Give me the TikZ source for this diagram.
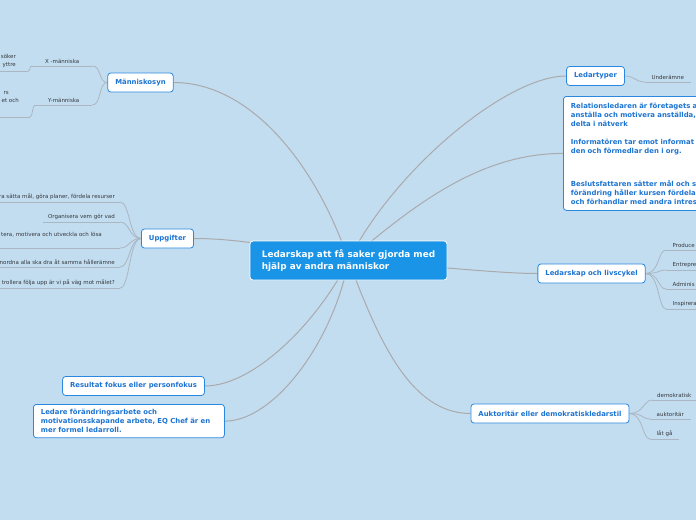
\documentclass[tikz,border=0pt]{standalone}
\usepackage{fontspec}
\setmainfont{DejaVu Sans}
\usepackage{xcolor}
\usepackage{tikz}
\usetikzlibrary{positioning,backgrounds,calc}
\definecolor{mapbg}{HTML}{C3DDF0}
\definecolor{mapblue}{HTML}{1A94E6}
\definecolor{topicline}{HTML}{2A88E0}
\definecolor{topictext}{HTML}{1C74D2}
\definecolor{branch}{HTML}{A9AAAC}
\definecolor{twig}{HTML}{AAB6C1}
\definecolor{leaftext}{HTML}{33383D}

\begin{document}
\begin{tikzpicture}[
  x=1pt,y=-1pt,
  central/.style={draw=white,line width=0.8pt,fill=mapblue,rounded corners=3pt,text=white,
                  font=\fontsize{8.9}{12}\selectfont\bfseries,align=left,
                  minimum width=197pt,minimum height=39pt,inner xsep=11pt},
  topic/.style={draw=topicline,line width=0.8pt,fill=white,rounded corners=3pt,text=topictext,
                font=\fontsize{6.9}{9}\selectfont\bfseries,align=left,
                minimum height=19pt,inner xsep=7.5pt},
  leaf/.style={font=\fontsize{5.5}{8}\selectfont,text=leaftext,inner xsep=5pt,inner ysep=2pt},
  leafL/.style={leaf,align=right,anchor=south east},
  leafR/.style={leaf,align=left,anchor=south west,inner xsep=6.5pt},
  branchline/.style={draw=branch,line width=1pt},
  twigline/.style={draw=twig,line width=0.8pt},
]
\useasboundingbox (0,0) rectangle (696,520);
\begin{scope}[on background layer]
  \fill[mapbg] (0,0) rectangle (696,520);
\end{scope}

% centre
\node[central] (root) at (348.5,260.5) {Ledarskap att få saker gjorda med\\hjälp av andra människor};

% LEFT: main topics
\node[topic] (mannsyn) at (140.5,82.5) {Människosyn};
\node[topic] (uppg) at (167.5,238.5) {Uppgifter};
\node[topic] (resultat) at (133.5,386) {Resultat fokus eller personfokus};
\node[topic,anchor=north west,inner ysep=5pt,text width=176pt] (ledare) at (33,404)
  {Ledare förändringsarbete och\\motivationsskapande arbete, EQ Chef är en\\mer formel ledarroll.};

% RIGHT: main topics
\node[topic] (ledartyper) at (595.5,76) {Ledartyper};
\node[topic,anchor=north west,minimum height=114pt,inner ysep=5pt,text width=190pt] (roller) at (563,96)
  {Relationsledaren är företagets a\\anställa och motivera anställda,\\delta i nätverk\\[9pt]
   Informatören tar emot informat\\den och förmedlar den i org.\\[24pt]
   Beslutsfattaren sätter mål och s\\förändring håller kursen fördela\\och förhandlar med andra intres};
\node[topic] (livscykel) at (591.5,273.5) {Ledarskap och livscykel};
\node[topic] (stil) at (550,413.5) {Auktoritär eller demokratiskledarstil};

% leaves of Människosyn
\node[leaf,align=center,minimum width=60pt,anchor=south west] (xman) at (32,66) {X -människa};
\node[leaf,align=center,minimum width=57pt,anchor=south west] (yman) at (35,105) {Y-människa};
\node[leafL,inner xsep=12pt,inner ysep=3.5pt] (xlat) at (28,71) {söker\\yttre};
\node[leafL,inner xsep=11pt,text depth=12pt] (yflit) at (30,117) {rs\hspace*{10pt}\\et och};

% leaves of Uppgifter
\node[leafL] (u1) at (120,202) {ra sätta mål, göra planer, fördela resurser};
\node[leafL] (u2) at (120,222) {Organisera vem gör vad};
\node[leafL,text depth=9.5pt] (u3) at (120,248) {tera, motivera och utveckla och lösa\hspace*{13pt}};
\node[leafL] (u4) at (120,267) {nordna alla ska dra åt samma hållerämne};
\node[leafL] (u5) at (120,288) {trollera följa upp är vi på väg mot målet?};

% leaves on the right
\node[leafR] (under) at (645,82) {Underämne};
\node[leafR] (prod) at (666,250) {Produce};
\node[leafR] (entr) at (666,270) {Entrepre};
\node[leafR] (admi) at (666,289) {Adminis};
\node[leafR] (insp) at (666,309) {Inspirera};
\node[leafR,inner xsep=5pt] (demo) at (652,400) {demokratisk};
\node[leafR] (auk) at (650,419) {auktoritär};
\node[leafR] (latga) at (650,439) {låt gå};

% underlines
\foreach \n in {xman,yman,xlat,yflit,u1,u2,u3,u4,u5,under,prod,entr,admi,insp,demo,auk,latga}
  \draw[twigline] (\n.south west) -- (\n.south east);

% connectors, behind the nodes
\begin{scope}[on background layer]
  \draw[branchline] (root.center) .. controls +(-30,-90) and +(80,0) .. (mannsyn.east);
  \draw[branchline] (root.center) .. controls +(-70,-15) and +(40,0) .. (uppg.east);
  \draw[branchline] (root.center) .. controls +(-30,60) and +(50,0) .. (resultat.east);
  \draw[branchline] (root.center) .. controls +(-15,80) and +(50,0) .. (ledare.east);
  \draw[branchline] (root.center) .. controls +(45,-90) and +(-60,0) .. (ledartyper.west);
  \draw[branchline] (root.center) .. controls +(70,-60) and +(-80,0) .. (roller.west);
  \draw[branchline] (root.center) .. controls +(80,5) and +(-40,0) .. (livscykel.west);
  \draw[branchline] (root.center) .. controls +(30,80) and +(-60,0) .. (stil.west);

  \foreach \n in {xman,yman}
    \draw[twigline] (mannsyn.west) .. controls +(-9,0) and +(9,0) .. (\n.south east);
  \draw[twigline] (xman.south west) .. controls +(-3,0) and +(3,0) .. (xlat.south east);
  \draw[twigline] (yman.south west) .. controls +(-3,0) and +(3,0) .. (yflit.south east);
  \foreach \n in {u1,u2,u3,u4,u5}
    \draw[twigline] (uppg.west) .. controls +(-12,0) and +(10,0) .. (\n.south east);
  \draw[twigline] (ledartyper.east) .. controls +(10,0) and +(-10,0) .. (under.south west);
  \foreach \n in {prod,entr,admi,insp}
    \draw[twigline] (livscykel.east) .. controls +(14,0) and +(-8,0) .. (\n.south west);
  \foreach \n in {demo,auk,latga}
    \draw[twigline] (stil.east) .. controls +(14,0) and +(-8,0) .. (\n.south west);
\end{scope}
\end{tikzpicture}
\end{document}
